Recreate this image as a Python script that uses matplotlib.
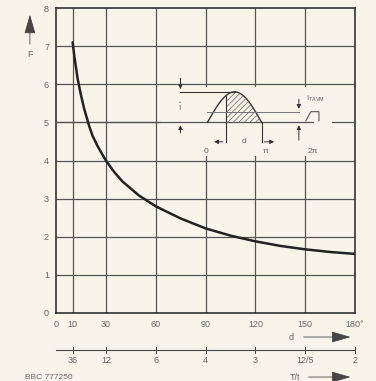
import numpy as np
import matplotlib.pyplot as plt

d_deg = [10, 11, 12, 13, 15, 17, 20, 22, 25, 30, 35, 40, 50, 60, 75, 90, 105, 120,
         135, 150, 165, 180]
F_val = [7.1, 6.75, 6.45, 6.15, 5.72, 5.35, 4.9, 4.65, 4.38, 4.0, 3.7, 3.45, 3.08,
         2.8, 2.48, 2.22, 2.03, 1.88, 1.76, 1.67, 1.60, 1.55]

x_ticks = [0, 10, 30, 60, 90, 120, 150, 180]
x_labels = ["0", "10", "30", "60", "90", "120", "150", "180°"]
y_ticks = [0, 1, 2, 3, 4, 5, 6, 7, 8]
grid_x = [10, 30, 60, 90, 120, 150]
grid_y = [1, 2, 3, 4, 5, 6, 7]

tt_pos = [10, 30, 60, 90, 120, 150, 180]
tt_labels = ["36", "12", "6", "4", "3", "12/5", "2"]

BG = "#f8f4ea"
TXT = "#666666"
GRID = "#555555"

plt.rcParams['hatch.linewidth'] = 0.5
plt.rcParams['font.family'] = ['Liberation Sans', 'DejaVu Sans']
plt.rcParams['mathtext.fontset'] = 'dejavusans'

fig = plt.figure(figsize=(3.76, 3.81), dpi=100, facecolor=BG)
ax = fig.add_axes([56/376, 1-313/381, 299/376, 305/381])
ax.set_facecolor(BG)
ax.set_xlim(0, 180)
ax.set_ylim(0, 8)

# grille
for gx in grid_x:
    ax.axvline(gx, color=GRID, lw=0.9, zorder=1)
for gy in grid_y:
    ax.axhline(gy, color=GRID, lw=0.9, zorder=1)

for s in ax.spines.values():
    s.set_color("#333333")
    s.set_linewidth(1.2)

ax.set_xticks(x_ticks)
ax.set_xticklabels(x_labels)
ax.set_yticks(y_ticks)
ax.tick_params(length=0, labelsize=6.5, colors=TXT, pad=5)

# courbe
ax.plot(d_deg, F_val, color="#222222", lw=1.8, zorder=4, solid_capstyle='round',
        solid_joinstyle='round')

# --- schéma en encart ---
x0, xpi, x2pi = 91.2, 123.8, 146.2
base, peak, avg = 5.0, 5.80, 5.28
xfire = 102.1
ydim = 4.49

ax.fill_between([63.5, 179.5], 4.12, 5.93, color=BG, lw=0, zorder=2)
ax.plot([0, 155], [base, base], color=GRID, lw=0.9, zorder=3)
ax.plot([166, 180], [base, base], color=GRID, lw=0.9, zorder=3)

ts = np.linspace(0, 1, 60)
xs = x0 + (xpi - x0) * ts
ys = base + (peak - base) * np.sin(np.pi * ts)
ax.plot(xs, ys, color="#333333", lw=1.0, zorder=3)
m = xs >= xfire
ax.fill_between(xs[m], base, ys[m], facecolor='none', edgecolor="#666666",
                hatch='//////', lw=0, zorder=3)
yf = base + (peak - base) * np.sin(np.pi * (xfire - x0) / (xpi - x0))
ax.plot([xfire, xfire], [ydim, yf], color="#333333", lw=0.8, zorder=3)
ax.plot([xpi, xpi], [ydim, base], color="#333333", lw=0.8, zorder=3)

# niveau crête
ax.plot([74.9, x0 + (xpi - x0) / 2], [peak, peak], color="#333333", lw=0.8, zorder=3)
ax.plot([74.9, 74.9], [6.17, 6.02], color="#333333", lw=0.8, zorder=3)
arrow = dict(arrowstyle='-|>', color="#333333", lw=0.7, mutation_scale=6)
ax.annotate("", xy=(74.9, peak), xytext=(74.9, 6.05), arrowprops=arrow, zorder=3)
ax.annotate("", xy=(74.9, base), xytext=(74.9, 4.65), arrowprops=arrow, zorder=3)
ax.text(74.9, 5.42, r"$\hat{\mathregular{I}}$", ha='center', va='center', fontsize=6,
        color=TXT, zorder=3)

# niveau moyen
ax.plot([x0, x2pi], [avg, avg], color="#777777", lw=0.7, zorder=3)
ax.plot([150.4, 153.4, 158.3, 158.3], [5.04, avg, avg, 5.04], color="#444444", lw=0.7,
        zorder=3)
ax.annotate("", xy=(x2pi, avg), xytext=(x2pi, 5.68), arrowprops=arrow, zorder=3)
ax.annotate("", xy=(x2pi, base), xytext=(x2pi, 4.46), arrowprops=arrow, zorder=3)
ax.text(150.5, 5.63, r"I$_{\mathregular{TAVM}}$", fontsize=5.5, color=TXT,
        ha='left', va='center', zorder=3)

# cote d
ax.annotate("", xy=(93.5, ydim), xytext=(xfire, ydim), arrowprops=arrow, zorder=3)
ax.annotate("", xy=(133, ydim), xytext=(xpi, ydim), arrowprops=arrow, zorder=3)
ax.text(113, ydim, "d", fontsize=6, color=TXT, ha='center', va='center', zorder=3)
ax.text(90.6, 4.23, "0", fontsize=6, color=TXT, ha='center', va='center', zorder=3)
ax.text(126.2, 4.23, "π", fontsize=6, color=TXT, ha='center', va='center', zorder=3)
ax.text(154.6, 4.23, "2π", fontsize=6, color=TXT, ha='center', va='center', zorder=3)

# --- axe F ---
big = dict(arrowstyle='-|>,head_length=1.2,head_width=0.35', color="#444444", lw=0.6,
           mutation_scale=10)
ax.annotate("", xy=(-15.7, 7.9), xytext=(-15.7, 6.98), arrowprops=big,
            annotation_clip=False)
ax.text(-15.7, 6.78, "F", fontsize=6.5, color=TXT, ha='center', va='center',
        clip_on=False)

# --- axe d ---
ax.annotate("", xy=(179, -0.63), xytext=(147.4, -0.63), arrowprops=big,
            annotation_clip=False)
ax.text(141.3, -0.63, "d", fontsize=6.5, color=TXT, ha='center', va='center',
        clip_on=False)

# --- axe T/t ---
ax.plot([0, 180], [-0.97, -0.97], color="#444444", lw=0.8, clip_on=False)
for p, lab in zip(tt_pos, tt_labels):
    ax.plot([p, p], [-0.90, -1.04], color="#444444", lw=0.7, clip_on=False)
    ax.text(p, -1.24, lab, fontsize=6.5, color=TXT, ha='center', va='center',
            clip_on=False)
ax.annotate("", xy=(179, -1.68), xytext=(150.4, -1.68), arrowprops=big,
            annotation_clip=False)
ax.text(144, -1.68, "T/t", fontsize=6.5, color=TXT, ha='center', va='center',
        clip_on=False)
ax.text(-18.7, -1.68, "BBC 777250", fontsize=6, color=TXT, ha='left', va='center',
        clip_on=False)

fig.savefig("out.png", dpi=100, facecolor=BG)
